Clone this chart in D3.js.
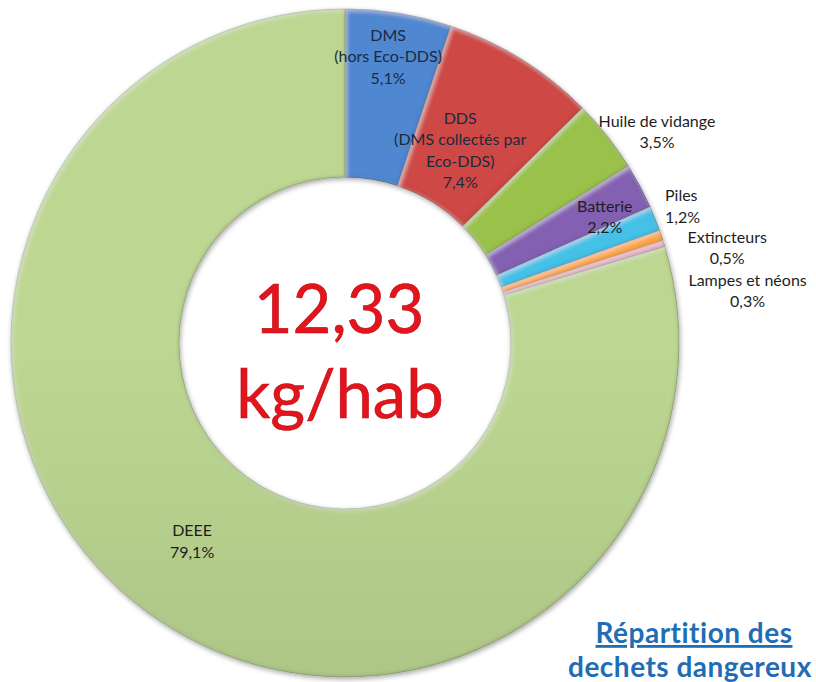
<!DOCTYPE html>
<html lang="fr">
<head>
<meta charset="UTF-8">
<title>Répartition des déchets dangereux</title>
<script src="https://cdn.jsdelivr.net/npm/d3@7"></script>
<style>
  html, body { margin: 0; padding: 0; background: #fff; }
  svg { display: block; }
</style>
</head>
<body>
<div id="chart"></div>
<script>
// data (percent of 12,33 kg/hab)
const categories = ["DMS", "DDS", "Huile de vidange", "Batterie", "Piles", "Extincteurs", "Lampes et néons", "DEEE"];
const labelLines = [
  ["DMS", "(hors Eco-DDS)"],
  ["DDS", "(DMS collectés par", "Eco-DDS)"],
  ["Huile de vidange"],
  ["Batterie"],
  ["Piles"],
  ["Extincteurs"],
  ["Lampes et néons"],
  ["DEEE"]
];
const shares = [5.1, 7.4, 3.5, 2.2, 1.2, 0.5, 0.3, 79.1];
const shareLabels = ["5,1%", "7,4%", "3,5%", "2,2%", "1,2%", "0,5%", "0,3%", "79,1%"];
const colors = ["#4a7ec2", "#c0443f", "#8fb444", "#7b5aa6", "#3fb4d8", "#f49a3c", "#d9a0b4", "#b0c888"];
const centerLines = ["12,33", "kg/hab"];
const titleLines = ["Répartition des", "dechets dangereux"];

const W = 816, H = 682;
const cx = 345, cy = 343, R = 334, r0 = 166;

// where each label sits: radius from centre, angle shift (deg), anchor
const labelPlace = [
  { r: 290, da: -0.7, anchor: "middle" },
  { r: 225, da: -1.1, anchor: "middle" },
  { r: 377, da: 4.2, anchor: "middle" },
  { r: 289, da: 2.0, anchor: "middle" },
  { r: 348, da: -1.3, anchor: "start" },
  { r: 394, da: 4.7, anchor: "middle" },
  { r: 406, da: 9.9, anchor: "middle" },
  { r: 250, da: 1.1, anchor: "middle" }
];

const svg = d3.select("#chart").append("svg")
  .attr("width", W).attr("height", H);

const defs = svg.append("defs");

// soft rounded edge: darken a thin band along each slice border
const bevel = defs.append("filter").attr("id", "bevel")
  .attr("x", "-5%").attr("y", "-5%").attr("width", "110%").attr("height", "110%");
bevel.append("feGaussianBlur").attr("in", "SourceAlpha").attr("stdDeviation", 2.2).attr("result", "blur");
bevel.append("feComposite").attr("in", "SourceAlpha").attr("in2", "blur")
  .attr("operator", "arithmetic").attr("k1", 0).attr("k2", 1).attr("k3", -1).attr("k4", 0).attr("result", "edge");
bevel.append("feFlood").attr("flood-color", "#000").attr("flood-opacity", 0.55).attr("result", "dark");
bevel.append("feComposite").attr("in", "dark").attr("in2", "edge").attr("operator", "in").attr("result", "edgeDark");
bevel.append("feOffset").attr("in", "blur").attr("dx", 1.5).attr("dy", 2).attr("result", "blurOff");
bevel.append("feComposite").attr("in", "SourceAlpha").attr("in2", "blurOff")
  .attr("operator", "arithmetic").attr("k1", 0).attr("k2", 1).attr("k3", -1).attr("k4", 0).attr("result", "hiEdge");
bevel.append("feFlood").attr("flood-color", "#fff").attr("flood-opacity", 0.45).attr("result", "light");
bevel.append("feComposite").attr("in", "light").attr("in2", "hiEdge").attr("operator", "in").attr("result", "edgeLight");
const mg = bevel.append("feMerge");
mg.append("feMergeNode").attr("in", "SourceGraphic");
mg.append("feMergeNode").attr("in", "edgeDark");
mg.append("feMergeNode").attr("in", "edgeLight");

const shadow = defs.append("filter").attr("id", "shadow")
  .attr("x", "-10%").attr("y", "-10%").attr("width", "120%").attr("height", "120%");
shadow.append("feDropShadow").attr("dx", 1).attr("dy", 2).attr("stdDeviation", 2.5)
  .attr("flood-color", "#000").attr("flood-opacity", 0.35);

colors.forEach((c, i) => {
  const g = defs.append("linearGradient").attr("id", "grad" + i)
    .attr("gradientUnits", "userSpaceOnUse")
    .attr("x1", 0).attr("y1", cy - R).attr("x2", 0).attr("y2", cy + R);
  g.append("stop").attr("offset", "0%").attr("stop-color", d3.color(c).brighter(0.2));
  g.append("stop").attr("offset", "100%").attr("stop-color", d3.color(c).darker(0.3));
});

const pie = d3.pie().sort(null).value(d => d);
const arcs = pie(shares);
const arc = d3.arc().innerRadius(r0).outerRadius(R);

const g = svg.append("g").attr("transform", `translate(${cx},${cy})`);

g.append("g").attr("filter", "url(#shadow)")
  .selectAll("path")
  .data(arcs)
  .enter()
  .append("path")
  .attr("d", arc)
  .attr("fill", (d, i) => `url(#grad${i})`)
  .attr("stroke", (d, i) => d3.color(colors[i]).darker(0.8))
  .attr("stroke-width", 0.6)
  .attr("filter", "url(#bevel)");

// slice labels
const fontFam = "Lato, 'Open Sans', sans-serif";
const lineH = 21.5;
arcs.forEach((d, i) => {
  const p = labelPlace[i];
  const a = (d.startAngle + d.endAngle) / 2 + p.da * Math.PI / 180;
  const x = Math.sin(a) * p.r, y = -Math.cos(a) * p.r;
  const lines = labelLines[i].concat([shareLabels[i]]);
  const top = y - (lines.length - 1) * lineH / 2;
  const t = g.append("text")
    .attr("text-anchor", p.anchor)
    .style("font-family", fontFam)
    .style("font-size", "16px")
    .attr("fill", i < 2 ? "#1c2a40" : "#1e1e1e");
  lines.forEach((ln, k) => {
    t.append("tspan").attr("x", x).attr("y", top + k * lineH + 6).text(ln);
  });
});

// centre value
const ct = g.append("text")
  .attr("text-anchor", "middle")
  .style("font-family", fontFam)
  .style("font-size", "67px")
  .attr("fill", "#e3141c")
  .attr("stroke", "#b80d14")
  .attr("stroke-width", 0.6);
ct.append("tspan").attr("x", -6).attr("y", -10).text(centerLines[0]);
ct.append("tspan").attr("x", -5).attr("y", 75).text(centerLines[1]);

// title, bottom right (two separate lines)
svg.append("text")
  .attr("x", 694).attr("y", 643)
  .attr("text-anchor", "middle")
  .style("font-family", fontFam)
  .style("font-size", "28px")
  .style("font-weight", "bold")
  .style("letter-spacing", "0.5px")
  .style("text-decoration", "underline")
  .attr("fill", "#1f6db4")
  .text(titleLines[0]);
svg.append("text")
  .attr("x", 568).attr("y", 677)
  .style("font-family", fontFam)
  .style("font-size", "28px")
  .style("font-weight", "bold")
  .style("letter-spacing", "0.5px")
  .attr("fill", "#1f6db4")
  .text(titleLines[1]);
</script>
</body>
</html>
